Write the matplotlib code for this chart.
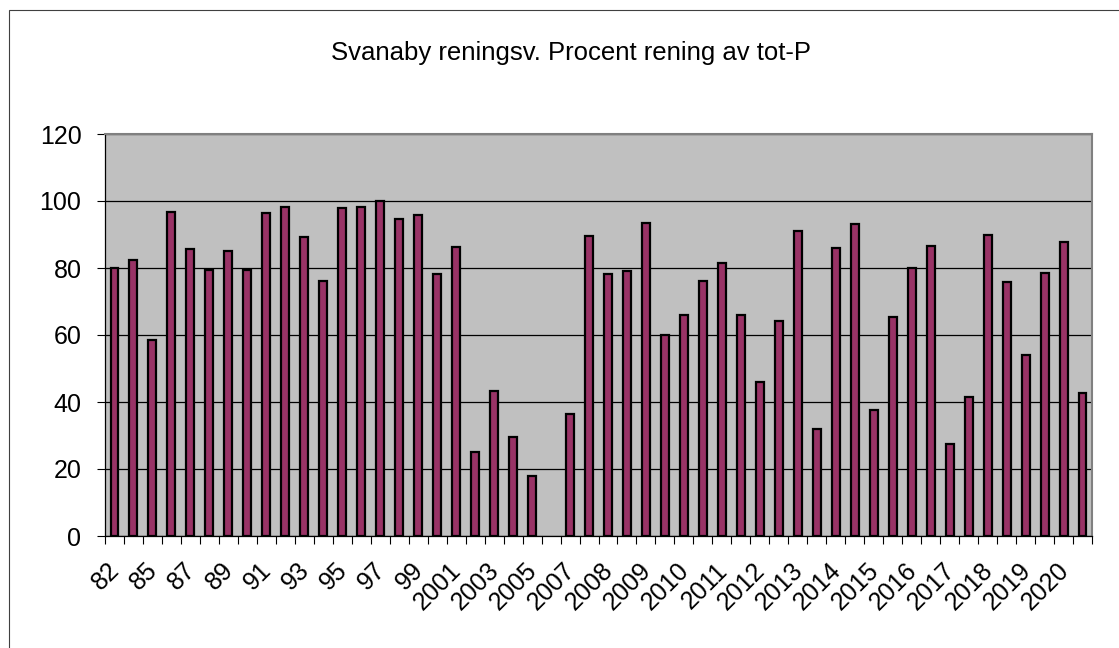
import matplotlib.pyplot as plt
import matplotlib.transforms as mtransforms
from matplotlib.patches import Rectangle

# Percent reduction of total P, one bar per sampling
rening = [80.1, 82.3, 58.6, 96.8, 85.6, 79.4, 85.1, 79.3, 96.4, 98.1,
          89.4, 76.0, 97.9, 98.3, 100.0, 94.6, 95.9, 78.1, 86.4, 25.1,
          43.3, 29.6, 18.0, 0.0, 36.4, 89.6, 78.1, 79.0, 93.4, 60.1,
          66.1, 76.1, 81.4, 66.1, 46.1, 64.1, 91.0, 31.9, 86.1, 93.0,
          37.5, 65.5, 80.1, 86.6, 27.6, 41.6, 90.0, 75.7, 54.0, 78.5,
          87.9, 42.8]

# only every second category carries a label
year_labels = ["82", "85", "87", "89", "91", "93", "95", "97", "99",
               "2001", "2003", "2005", "2007", "2008", "2009", "2010",
               "2011", "2012", "2013", "2014", "2015", "2016", "2017",
               "2018", "2019", "2020"]

y_ticks = [0, 20, 40, 60, 80, 100, 120]

plt.rcParams['font.family'] = ['Liberation Sans', 'DejaVu Sans']

fig = plt.figure(figsize=(11.19, 6.48), dpi=100)
ax = fig.add_axes([105 / 1119, 1 - 536 / 648, 987 / 1119, 402 / 648])

# outer chart border
fig.patches.append(Rectangle((9 / 1119, -0.05), 1.2, 1 - 10 / 648 + 0.05,
                             transform=fig.transFigure, fill=False,
                             edgecolor="#404040", linewidth=0.8))

x = list(range(len(rening)))
ax.set_facecolor("#C0C0C0")
bars = ax.bar(x, rening, width=0.42, color="#993366", edgecolor="black",
              linewidth=1.6, zorder=3)
for b, v in zip(bars, rening):
    if v == 0:
        b.set_visible(False)

ax.set_xlim(-0.5, len(rening) - 0.5)
ax.set_ylim(0, 120)
ax.set_yticks(y_ticks)
ax.yaxis.grid(True, color="black", linewidth=0.9, zorder=1)
ax.set_axisbelow(True)

ax.set_xticks(x[::2])
ax.set_xticklabels(year_labels, rotation=45, ha="right", va="top",
                   rotation_mode="anchor", fontsize=18)
ax.set_xticks([i - 0.5 for i in range(len(rening) + 1)], minor=True)
ax.tick_params(axis="x", which="major", length=0, pad=16)
ax.tick_params(axis="x", which="minor", length=5.5, width=0.8, direction="out")
ax.tick_params(axis="y", length=6, width=0.8, direction="out", labelsize=18,
               pad=11)

# nudge rotated labels a little to the left
shift = mtransforms.ScaledTranslation(-7 / 100, 0, fig.dpi_scale_trans)
for lbl in ax.get_xticklabels():
    lbl.set_transform(lbl.get_transform() + shift)

for side in ["top", "right"]:
    ax.spines[side].set_color("#808080")
    ax.spines[side].set_linewidth(1.5)
for side in ["left", "bottom"]:
    ax.spines[side].set_color("black")
    ax.spines[side].set_linewidth(0.9)

fig.text(571 / 1119, 1 - 53 / 648, "Svanaby reningsv. Procent rening av tot-P",
         ha="center", va="center", fontsize=18.5)

fig.savefig("out.png", dpi=100)
